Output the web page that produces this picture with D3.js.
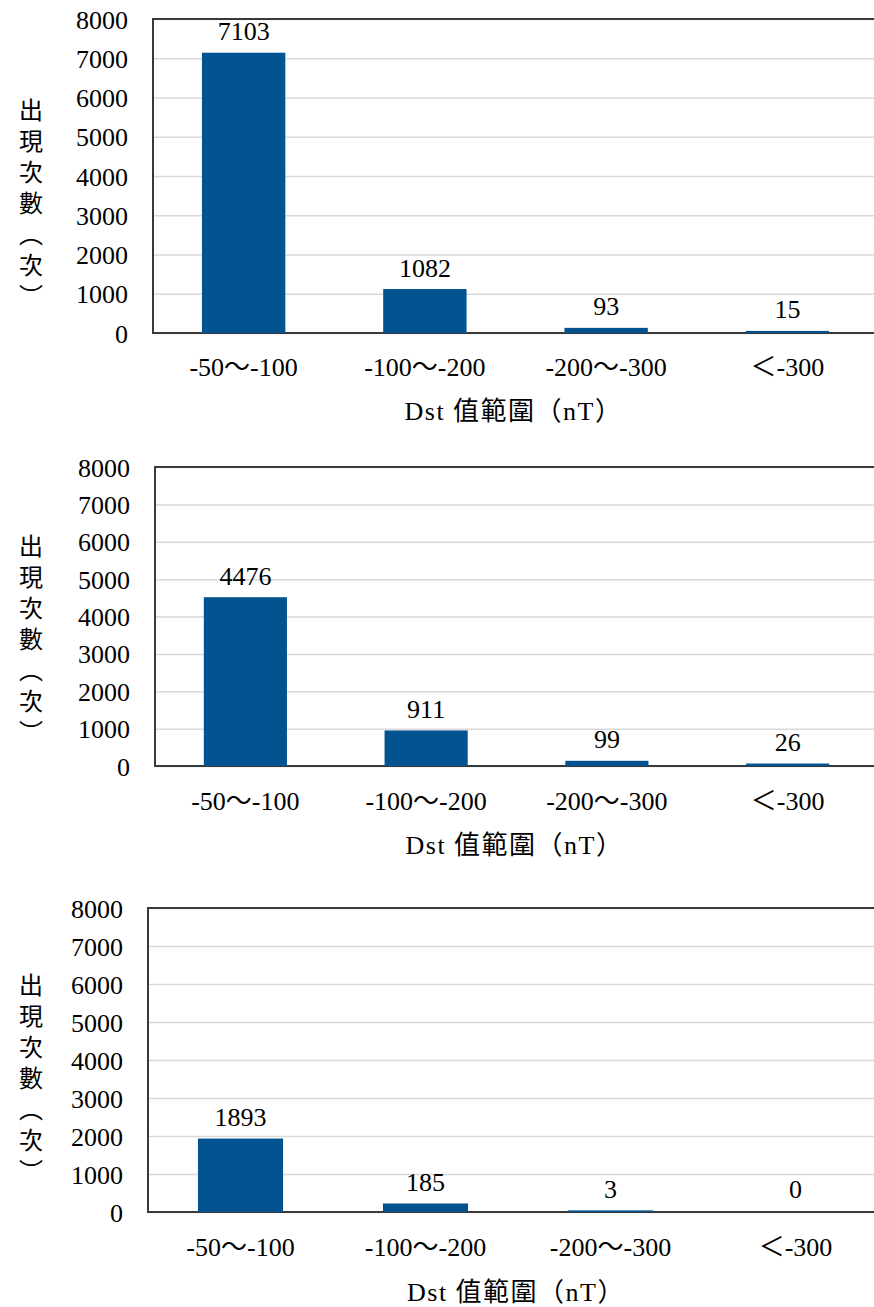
<!DOCTYPE html>
<html>
<head>
<meta charset="utf-8">
<script src="https://cdn.jsdelivr.net/npm/d3@7"></script>
<style>
  body { margin: 0; background: #fff; }
  text { font-family: "Liberation Serif", "Noto Sans CJK TC", serif; fill: #000; }
  .cjk { font-family: "Noto Sans CJK TC", sans-serif; }
</style>
</head>
<body>
<svg id="chart" width="874" height="1307"></svg>
<script>
// Data
const categories = ['-50～-100', '-100～-200', '-200～-300', '＜-300'];
const countsTop = [7103, 1082, 93, 15];
const countsMiddle = [4476, 911, 99, 26];
const countsBottom = [1893, 185, 3, 0];
const yTicks = [0, 1000, 2000, 3000, 4000, 5000, 6000, 7000, 8000];
const yTitleText = '出現次數（次）';
const xTitleText = 'Dst 值範圍（nT）';

const svg = d3.select('#chart');

// each panel: where its plot area sits on the page
const panels = [
  { values: countsTop,    top: 19,  bottom: 333,  left: 153, right: 878, catY: 367,  titleY: 411,  yTitleY: 206 },
  { values: countsMiddle, top: 467, bottom: 766,  left: 155, right: 878, catY: 801,  titleY: 845,  yTitleY: 642 },
  { values: countsBottom, top: 908, bottom: 1212, left: 148, right: 888, catY: 1247, titleY: 1292, yTitleY: 1081 }
];

const render = p => {
  const yScale = d3.scaleLinear()
    .domain([0, 8000])
    .range([p.bottom, p.top]);

  const xScale = d3.scaleBand()
    .domain(categories)
    .range([p.left, p.right])
    .paddingInner(0.54)
    .paddingOuter(0.27);

  const g = svg.append('g');

  // gridlines
  g.append('g')
    .attr('transform', `translate(${p.left},0)`)
    .call(d3.axisLeft(yScale).tickValues(yTicks).tickSize(-(p.right - p.left)).tickFormat(''))
    .call(s => s.select('.domain').remove())
    .selectAll('line')
      .attr('stroke', '#d9d9d9')
      .attr('stroke-width', 1.5);

  // frame
  g.append('path')
    .attr('d', `M${p.right},${p.top}H${p.left}V${p.bottom}H${p.right}`)
    .attr('fill', 'none')
    .attr('stroke', '#3a3a3a')
    .attr('stroke-width', 2);

  // bars (drawn over the axis line so tiny counts stay visible)
  const lift = 1.5;
  g.selectAll('rect.bar').data(p.values)
    .enter().append('rect')
      .attr('class', 'bar')
      .attr('x', (d, i) => xScale(categories[i]))
      .attr('width', xScale.bandwidth())
      .attr('y', d => yScale(d) - (d > 0 ? lift : 0))
      .attr('height', d => d > 0 ? p.bottom - yScale(d) + lift : 0)
      .attr('fill', '#02538f');

  // y tick labels
  const yAxisG = g.append('g')
    .attr('transform', `translate(${p.left},0)`)
    .call(d3.axisLeft(yScale).tickValues(yTicks).tickSize(0).tickPadding(25).tickFormat(d3.format('d')));
  yAxisG.select('.domain').remove();
  yAxisG.selectAll('text')
    .attr('font-size', 26)
    .attr('font-family', '"Liberation Serif", serif')
    .attr('dy', '0.35em');

  // category labels
  g.selectAll('text.cat').data(categories)
    .enter().append('text')
      .attr('class', 'cat')
      .attr('x', d => xScale(d) + xScale.bandwidth() / 2)
      .attr('y', p.catY)
      .attr('dy', '0.35em')
      .attr('text-anchor', 'middle')
      .attr('font-size', 26)
      .text(d => d);

  // value labels
  g.selectAll('text.val').data(p.values)
    .enter().append('text')
      .attr('class', 'val')
      .attr('x', (d, i) => xScale(categories[i]) + xScale.bandwidth() / 2)
      .attr('y', d => yScale(d) - 14)
      .attr('text-anchor', 'middle')
      .attr('font-size', 26)
      .text(d => d);

  // x title
  g.append('text')
    .attr('x', (p.left + p.right) / 2 - 2)
    .attr('y', p.titleY)
    .attr('dy', '0.35em')
    .attr('text-anchor', 'middle')
    .attr('font-size', 26)
    .style('letter-spacing', '1.5px')
    .text(xTitleText);

  // y title, stacked vertically
  g.append('text')
    .attr('class', 'cjk')
    .attr('x', 31)
    .attr('y', p.yTitleY)
    .attr('text-anchor', 'middle')
    .attr('font-size', 24)
    .style('writing-mode', 'vertical-rl')
    .style('letter-spacing', '7px')
    .text(yTitleText);
};

panels.forEach(render);
</script>
</body>
</html>
